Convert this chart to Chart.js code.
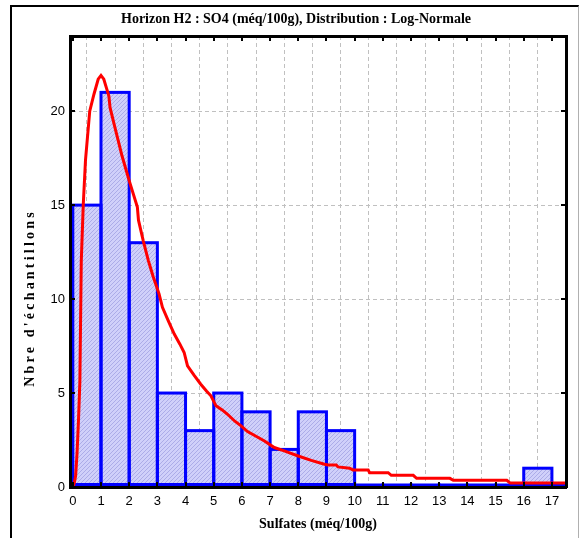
<!DOCTYPE html>
<html>
<head>
<meta charset="utf-8">
<script src="https://cdn.jsdelivr.net/npm/chart.js@4.4.1/dist/chart.umd.min.js"></script>
<style>
  html, body { margin: 0; padding: 0; background: #fff; }
  #wrap { position: relative; width: 580px; height: 538px; }
  #frame { position: absolute; left: 10px; top: 5px; width: 566px; height: 540px;
           border-left: 2px solid #000; border-top: 2px solid #000; border-right: 1px solid #b0b0b0; }
  canvas { position: absolute; left: 0; top: 0; }
</style>
</head>
<body>
<div id="wrap">
  <div id="frame"></div>
  <canvas id="c" width="580" height="538"></canvas>
</div>
<script>
// ---- data ----
const chartTitle = "Horizon H2 : SO4 (méq/100g), Distribution : Log-Normale";
const xTitle = "Sulfates (méq/100g)";
const yTitle = "Nbre d'échantillons";

// histogram bins (width 1) : centres and counts
const binCenters = [0.5, 1.5, 2.5, 3.5, 4.5, 5.5, 6.5, 7.5, 8.5, 9.5, 10.5, 11.5, 12.5, 13.5, 14.5, 15.5, 16.5, 17.5];
const binCounts  = [15, 21, 13, 5, 3, 5, 4, 2, 4, 3, 0, 0, 0, 0, 0, 0, 1, 0];

// fitted log-normal curve
const curveX = [0, 0.05, 0.1, 0.15, 0.2, 0.25, 0.3, 0.37, 0.45, 0.6, 0.75, 0.9, 1.0, 1.1, 1.2, 1.28, 1.32,
                1.5, 1.75, 2.0, 2.29, 2.33, 2.5, 2.68, 2.85, 3.06, 3.18, 3.4, 3.6, 3.8, 3.95, 4.07, 4.3,
                4.54, 4.75, 4.9, 5.08, 5.3, 5.49, 5.75, 5.97, 6.2, 6.5, 6.8, 7.15, 7.5, 8.0, 8.46, 8.93,
                9.05, 9.35, 9.41, 9.82, 9.94, 10.48, 10.53, 11.19, 11.3, 12.08, 12.2, 13.38, 13.5, 15.4, 15.52, 17.6];
const curveY = [0, 0.2, 0.6, 1.8, 3.5, 5.6, 12, 15, 17.4, 20, 20.9, 21.7, 21.9, 21.7, 21.2, 20.8, 20.2,
                19.1, 17.6, 16.3, 14.9, 14.2, 13.1, 12.05, 11.2, 10.28, 9.56, 8.8, 8.14, 7.6, 7.16, 6.45, 5.95,
                5.47, 5.1, 4.85, 4.32, 4.1, 3.87, 3.5, 3.25, 2.95, 2.7, 2.45, 2.1, 1.92, 1.65, 1.42, 1.21,
                1.17, 1.17, 1.07, 1.0, 0.91, 0.91, 0.76, 0.76, 0.62, 0.62, 0.46, 0.46, 0.36, 0.36, 0.21, 0.21];

const xMin = -0.1, xMax = 17.5, yMin = 0, yMax = 24;
const xStep = 1, yStep = 5;

// ---- hatch pattern for bars ----
function makeHatch() {
  const p = document.createElement('canvas');
  p.width = 4; p.height = 4;
  const g = p.getContext('2d');
  g.fillStyle = 'rgb(208,208,250)';
  g.fillRect(0, 0, 4, 4);
  g.fillStyle = 'rgb(172,172,232)';
  for (let i = 0; i < 4; i++) g.fillRect(3 - i, i, 1, 1);
  return document.getElementById('c').getContext('2d').createPattern(p, 'repeat');
}

// outlines of the bars, stroked centred on the bar edges
const barOutline = {
  id: 'barOutline',
  afterDatasetDraw(chart, args) {
    if (args.index !== 0) return;
    const ctx = chart.ctx;
    const area = chart.chartArea;
    ctx.save();
    ctx.beginPath();
    ctx.rect(area.left, area.top, area.right - area.left, area.bottom - area.top);
    ctx.clip();
    ctx.strokeStyle = '#0000ff';
    ctx.lineWidth = 3;
    ctx.lineJoin = 'miter';
    args.meta.data.forEach(el => {
      const p = el.getProps(['x', 'y', 'base', 'width'], true);
      const l = p.x - p.width / 2;
      const bottom = p.base - 2;
      ctx.strokeRect(l, p.y, p.width, bottom - p.y);
    });
    ctx.restore();
  }
};

// inward tick marks on all four sides + rotated y title
const decor = {
  id: 'decor',
  afterDraw(chart) {
    const ctx = chart.ctx;
    const a = chart.chartArea;
    const sx = chart.scales.x, sy = chart.scales.y;
    ctx.save();
    ctx.strokeStyle = '#000';
    ctx.lineWidth = 2;
    ctx.beginPath();
    sx.ticks.forEach(t => {
      const px = Math.round(sx.getPixelForValue(t.value)) ;
      if (px <= a.left + 2 || px >= a.right - 2) return;
      ctx.moveTo(px, a.bottom); ctx.lineTo(px, a.bottom - 5);
      ctx.moveTo(px, a.top); ctx.lineTo(px, a.top + 5);
    });
    sy.ticks.forEach(t => {
      const py = Math.round(sy.getPixelForValue(t.value));
      if (py >= a.bottom - 2 || py <= a.top + 2) return;
      ctx.moveTo(a.left, py); ctx.lineTo(a.left + 5, py);
      ctx.moveTo(a.right, py); ctx.lineTo(a.right - 5, py);
    });
    ctx.stroke();
    // y-axis title
    ctx.translate(30, 298);
    ctx.rotate(-Math.PI / 2);
    ctx.font = 'bold 14px "Liberation Serif"';
    ctx.fillStyle = '#000';
    ctx.textAlign = 'center';
    ctx.textBaseline = 'middle';
    ctx.letterSpacing = '3.2px';
    ctx.fillText(yTitle, 0, 0);
    ctx.restore();
  }
};

const tickFont = { family: '"Liberation Sans", Arial, sans-serif', size: 13 };
const gridStyle = { color: '#c0c0c0', lineWidth: 1, drawTicks: false };
const gridDash = [4, 3];

new Chart(document.getElementById('c'), {
  type: 'bar',
  data: {
    datasets: [
      {
        type: 'bar',
        data: binCenters.map((x, i) => ({ x: x, y: binCounts[i] })),
        backgroundColor: makeHatch(),
        borderWidth: 0,
        barPercentage: 1,
        categoryPercentage: 1,
        inflateAmount: 0,
        order: 1
      },
      {
        type: 'line',
        data: curveX.map((x, i) => ({ x: x, y: curveY[i] })),
        borderColor: '#ff0000',
        borderWidth: 3,
        pointRadius: 0,
        tension: 0,
        fill: false,
        order: 0
      }
    ]
  },
  options: {
    responsive: false,
    animation: false,
    events: [],
    layout: { padding: { left: 12, right: 0, top: 0, bottom: 0 } },
    plugins: {
      legend: { display: false },
      tooltip: { enabled: false },
      title: {
        display: true,
        text: chartTitle,
        color: '#000',
        font: { family: '"Liberation Serif", serif', size: 14, weight: 'bold' },
        padding: { top: 11, bottom: 8.2 }
      }
    },
    scales: {
      x: {
        type: 'linear', position: 'bottom', min: xMin, max: xMax, offset: false,
        ticks: { stepSize: xStep, includeBounds: false, color: '#000', font: tickFont, padding: 7, maxRotation: 0, autoSkip: false },
        grid: Object.assign({}, gridStyle),
        border: { display: true, color: '#000', width: 3, dash: gridDash, z: 1 },
        title: { display: true, text: xTitle, color: '#000',
                 font: { family: '"Liberation Serif", serif', size: 14, weight: 'bold' },
                 padding: { top: 0, bottom: 5 } },
        afterFit(s) { s.height = 51; }
      },
      x2: {
        type: 'linear', position: 'top', min: xMin, max: xMax, offset: false,
        ticks: { display: false }, grid: { display: false, drawTicks: false },
        border: { display: true, color: '#000', width: 3, z: 1 },
        afterFit(s) { s.height = 0; }
      },
      y: {
        type: 'linear', position: 'left', min: yMin, max: yMax,
        ticks: { stepSize: yStep, includeBounds: false, color: '#000', font: tickFont, padding: 5 },
        grid: Object.assign({}, gridStyle),
        border: { display: true, color: '#000', width: 3, dash: gridDash, z: 1 },
        afterFit(s) { s.width = 58; }
      },
      y2: {
        type: 'linear', position: 'right', min: yMin, max: yMax,
        ticks: { display: false }, grid: { display: false, drawTicks: false },
        border: { display: true, color: '#000', width: 3, z: 1 },
        afterFit(s) { s.width = 14; }
      }
    }
  },
  plugins: [barOutline, decor]
});
</script>
</body>
</html>
